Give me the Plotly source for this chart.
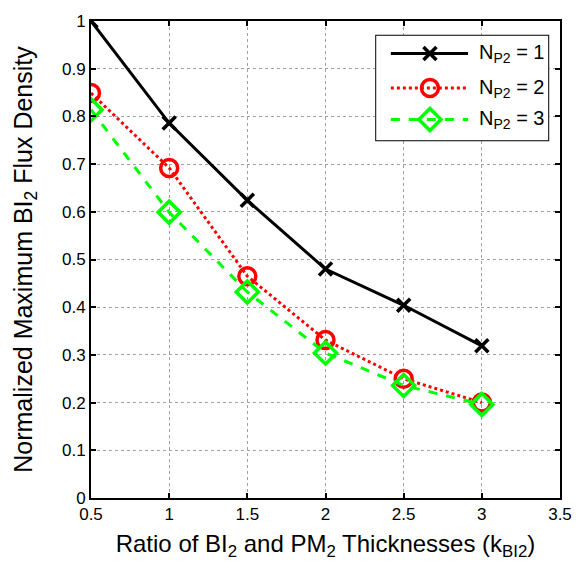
import plotly.graph_objects as go

x_vals = [0.5, 1.0, 1.5, 2.0, 2.5, 3.0]
n1_vals = [1.0, 0.786, 0.624, 0.480, 0.404, 0.319]
n2_vals = [0.849, 0.692, 0.465, 0.331, 0.250, 0.200]
n3_vals = [0.814, 0.599, 0.432, 0.304, 0.236, 0.196]
series_names = ["N<sub>P2</sub> = 1", "N<sub>P2</sub> = 2", "N<sub>P2</sub> = 3"]
x_ticks = [0.5, 1, 1.5, 2, 2.5, 3, 3.5]
y_ticks = [0, 0.1, 0.2, 0.3, 0.4, 0.5, 0.6, 0.7, 0.8, 0.9, 1]

FONT = "Liberation Sans, Arial"
styles = [
    dict(line=dict(color="black", width=3, dash="solid"),
         marker=dict(symbol="x-thin-open", size=13, color="black", line=dict(color="black", width=3.5))),
    dict(line=dict(color="#ff0000", width=3, dash="dot"),
         marker=dict(symbol="circle-open", size=17, color="#ff0000", line=dict(color="#ff0000", width=3.5))),
    dict(line=dict(color="#00ff00", width=3, dash="dash"),
         marker=dict(symbol="diamond-open", size=17, color="#00ff00", line=dict(color="#00ff00", width=3.5))),
]
series = [n1_vals, n2_vals, n3_vals]

fig = go.Figure()
for name, vals, st in zip(series_names, series, styles):
    fig.add_trace(go.Scatter(x=x_vals, y=vals, name=name, mode="lines+markers",
                             showlegend=False, xaxis="x", yaxis="y", **st))

# Custom legend (box on an overlay axis in pixel-like units)
LEG_W, LEG_H = 178, 108
row_y = [19, 54, 86]
for name, st, ry in zip(series_names, styles, row_y):
    fig.add_trace(go.Scatter(x=[16, 95], y=[ry, ry], mode="lines", line=st["line"],
                             xaxis="x2", yaxis="y2", showlegend=False, hoverinfo="skip"))
    fig.add_trace(go.Scatter(x=[56], y=[ry], mode="markers", marker=st["marker"],
                             xaxis="x2", yaxis="y2", showlegend=False, hoverinfo="skip"))
    fig.add_annotation(x=104, y=ry, xref="x2", yref="y2", text=name, showarrow=False,
                       xanchor="left", yanchor="middle",
                       font=dict(family=FONT, size=20, color="black"))
fig.add_shape(type="rect", xref="x2", yref="y2", x0=0, x1=LEG_W, y0=0, y1=LEG_H,
              fillcolor="white", line=dict(color="black", width=2), layer="below")

axis_common = dict(showline=True, linecolor="black", linewidth=2, mirror="ticks",
                   ticks="inside", ticklen=5, tickwidth=1.5, tickcolor="black",
                   showgrid=True, gridcolor="#a0a0a0", gridwidth=1, griddash="dot",
                   zeroline=False, tickfont=dict(family=FONT, size=17, color="black"))

fig.update_layout(
    width=584, height=569,
    margin=dict(l=91, r=13, t=14, b=71),
    plot_bgcolor="white", paper_bgcolor="white",
    font=dict(family=FONT, color="black"),
    showlegend=False,
    xaxis=dict(range=[0.5, 3.5], tickvals=x_ticks, ticktext=[("%g" % t) for t in x_ticks],
               title=dict(text="Ratio of BI<sub>2</sub> and PM<sub>2</sub> Thicknesses (k<sub>BI2</sub>)",
                          font=dict(family=FONT, size=24, color="black"), standoff=12),
               **axis_common),
    yaxis=dict(range=[0, 1], tickvals=y_ticks, ticktext=[("%g" % t) for t in y_ticks],
               title=dict(text="Normalized Maximum BI<sub>2</sub> Flux Density",
                          font=dict(family=FONT, size=25, color="black"), standoff=22),
               **axis_common),
    xaxis2=dict(domain=[0.606, 0.977], range=[0, LEG_W], visible=False, anchor="y2",
                showgrid=False, zeroline=False, fixedrange=True),
    yaxis2=dict(domain=[0.748, 0.971], range=[LEG_H, 0], visible=False, anchor="x2",
                showgrid=False, zeroline=False, fixedrange=True),
)

fig.write_html("out.html")
